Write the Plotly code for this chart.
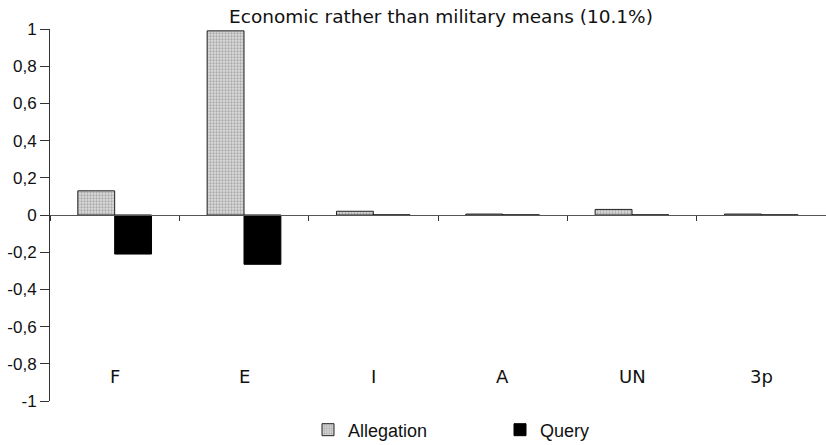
import plotly.graph_objects as go

categories = ["F", "E", "I", "A", "UN", "3p"]
allegation = [0.13, 0.99, 0.02, 0.005, 0.03, 0.005]
query = [-0.21, -0.265, 0.0, 0.0, 0.0, 0.0]
y_tickvals = [1, 0.8, 0.6, 0.4, 0.2, 0, -0.2, -0.4, -0.6, -0.8, -1]
y_ticktext = ["1", "0,8", "0,6", "0,4", "0,2", "0", "-0,2", "-0,4", "-0,6", "-0,8", "-1"]
title_text = "Economic rather than military means (10.1%)"
label_y = -0.87

fig = go.Figure()
fig.add_trace(go.Bar(
    x=categories, y=allegation, name="Allegation",
    marker=dict(color="#d8d8d8", line=dict(color="#222", width=1),
                pattern=dict(shape=".", fgcolor="#777", bgcolor="#dcdcdc", size=3, solidity=0.45)),
))
fig.add_trace(go.Bar(
    x=categories, y=query, name="Query",
    marker=dict(color="#000000", line=dict(color="#000", width=1)),
))

for c in categories:
    fig.add_annotation(x=c, y=label_y, xref="x", yref="y", text=c, showarrow=False,
                       font=dict(family="DejaVu Sans", size=18, color="#111"))

fig.update_layout(
    width=826, height=445,
    margin=dict(l=50, r=0, t=29, b=44, autoexpand=False),
    paper_bgcolor="white", plot_bgcolor="white",
    barmode="group", bargap=0.43, bargroupgap=0,
    title=dict(text=title_text, x=441 / 826, xref="container", xanchor="center",
               y=1 - 17 / 445, yref="container", yanchor="middle", automargin=False,
               font=dict(family="DejaVu Sans", size=18.5, color="#111")),
    font=dict(family="Liberation Sans", size=13, color="#111"),
    legend=dict(orientation="h", xref="container", x=308 / 826, xanchor="left",
                yref="container", y=1 - 430 / 445, yanchor="middle",
                entrywidth=147, font=dict(family="Liberation Sans", size=18, color="#111"),
                traceorder="normal"),
    xaxis=dict(type="category", anchor="free", position=0.5, showline=True,
               linecolor="#555", linewidth=1, ticks="outside", tickson="boundaries",
               ticklen=5, tickcolor="#333", showticklabels=False, showgrid=False,
               zeroline=False, range=[-0.5, 5.5], automargin=False),
    yaxis=dict(range=[-1, 1], tickvals=y_tickvals, ticktext=y_ticktext,
               showline=True, linecolor="#333", linewidth=1, ticks="outside",
               ticklen=9, tickcolor="#333", showgrid=False, zeroline=False,
               automargin=False,
               tickfont=dict(family="Liberation Sans", size=17, color="#111")),
)

fig.write_html("out.html", config={"displayModeBar": False},
               post_script="document.body.style.margin='0';document.body.style.overflow='hidden';")
